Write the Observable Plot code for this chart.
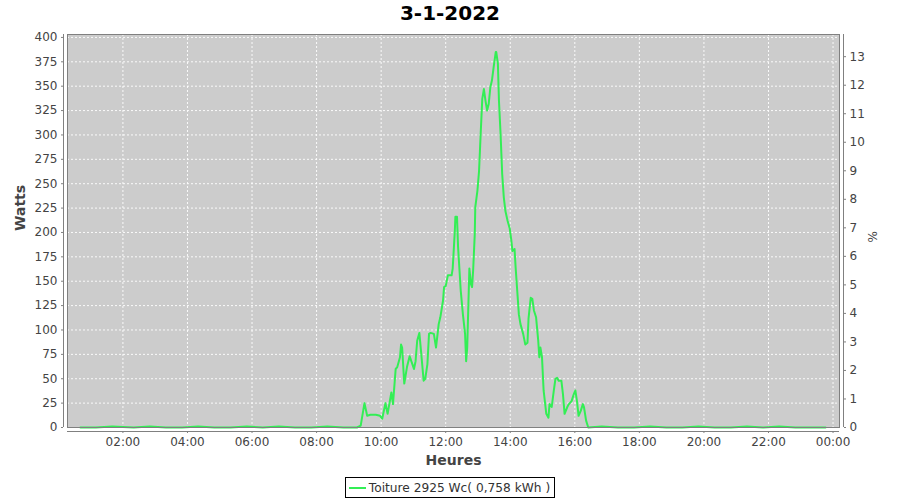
<!DOCTYPE html>
<html><head><meta charset="utf-8">
<script src="https://cdn.jsdelivr.net/npm/d3@7"></script>
<script src="https://cdn.jsdelivr.net/npm/@observablehq/plot@0.6"></script>
<style>
body{margin:0;background:#fff;font-family:"DejaVu Sans",sans-serif;width:900px;}
#title{height:26px;line-height:26px;text-align:center;font-weight:bold;font-size:20px;color:#000;}
#legend-wrap{height:29px;text-align:center;}
#legend{display:inline-flex;align-items:center;margin-top:6px;border:1px solid #000;height:19px;padding:0 4px 0 3px;font-size:12.2px;color:#333;}
#legend .sw{display:inline-block;width:17px;height:2px;background:#33ee55;margin-right:3px;}
</style></head><body>
<div id="title">3-1-2022</div>
<div id="chart"></div>
<div id="legend-wrap"><div id="legend"><span class="sw"></span><span>Toiture 2925 Wc( 0,758 kWh )</span></div></div>
<script>
// ---- data ----
const dateLabel = "3-1-2022";
const peakPower = 2925; // Wc
const times = ["00:41","01:10","01:40","02:20","02:50","03:20","03:50","04:20","04:50","05:20","05:50","06:20","06:50","07:20","07:50","08:20","08:50","09:15","09:22","09:29","09:34","09:40","09:50","09:58","10:02","10:08","10:12","10:19","10:22","10:27","10:30","10:35","10:37","10:39","10:43","10:48","10:53","10:58","11:01","11:04","11:07","11:11","11:14","11:19","11:22","11:26","11:29","11:32","11:38","11:42","11:47","11:50","11:55","11:57","12:00","12:04","12:11","12:13","12:17","12:18","12:21","12:23","12:28","12:32","12:36","12:38","12:40","12:42","12:44","12:47","12:49","12:51","12:54","12:55","12:59","13:02","13:05","13:08","13:11","13:14","13:17","13:20","13:23","13:26","13:29","13:33","13:34","13:37","13:39","13:42","13:45","13:48","13:51","13:55","13:59","14:02","14:04","14:08","14:10","14:13","14:16","14:19","14:24","14:28","14:32","14:34","14:38","14:41","14:44","14:48","14:52","14:54","14:56","14:59","15:02","15:07","15:11","15:13","15:17","15:21","15:24","15:27","15:30","15:35","15:38","15:41","15:46","15:49","15:54","15:58","16:01","16:04","16:07","16:11","16:15","16:17","16:21","16:25","16:50","17:20","17:50","18:20","18:50","19:20","19:50","20:20","20:50","21:20","21:50","22:20","22:50","23:20","23:46"];
const watts = [0,0,1,0,1,0,0,1,0,0,1,0,1,0,0,1,0,0,2,25,12,13,13,12,9,25,14,36,24,60,62,72,85,82,45,62,73,65,60,68,89,97,79,48,50,65,96,97,96,82,106,113,130,144,145,156,156,163,202,216,216,185,140,116,96,68,82,123,163,147,144,161,198,226,243,263,301,337,347,335,325,332,349,356,369,385,385,373,335,301,260,236,222,212,204,192,181,183,164,140,116,106,96,85,87,112,133,132,120,113,89,72,82,72,38,14,10,24,21,38,50,51,48,48,34,14,21,24,27,34,38,27,12,17,24,21,7,0,1,0,0,1,0,0,1,0,0,1,0,1,0,0,0];
const wattTicks = [0,25,50,75,100,125,150,175,200,225,250,275,300,325,350,375,400];
const pctTicks = [0,1,2,3,4,5,6,7,8,9,10,11,12,13];
const hourTicks = [2,4,6,8,10,12,14,16,18,20,22,24];
const seriesName = "Toiture 2925 Wc( 0,758 kWh )";

// ---- build ----
const toDate = (hm) => { const [h,m] = hm.split(":").map(Number); return new Date(Date.UTC(2022,0,3,h,m)); };
const data = times.map((t,i) => ({t: toDate(t), w: watts[i]}));
const xTicks = hourTicks.map(h => new Date(Date.UTC(2022,0,3,h,0)));
const xDomain = [new Date(Date.UTC(2022,0,3,0,17)), new Date(Date.UTC(2022,0,4,0,12))];
const green = "#33ee55";

const chart = Plot.plot({
  width: 900, height: 445,
  marginLeft: 67, marginRight: 61, marginTop: 8, marginBottom: 44,
  style: {fontFamily: "DejaVu Sans, sans-serif", fontSize: "12px", background: "transparent", color: "#444"},
  x: {type: "utc", domain: xDomain},
  y: {domain: [0, 403]},
  marks: [
    Plot.frame({fill: "#cccccc"}),
    Plot.ruleY(wattTicks.filter(v => v > 0), {stroke: "#ffffff", strokeDasharray: "2,2", strokeOpacity: 0.9}),
    Plot.ruleX(xTicks, {stroke: "#ffffff", strokeDasharray: "2,2", strokeOpacity: 0.9}),
    Plot.line(data, {x: "t", y: "w", stroke: green, strokeWidth: 2}),
    Plot.frame({stroke: "#808080"}),
    Plot.ruleX([xDomain[0]], {dx: -4, stroke: "#808080"}),
    Plot.ruleX([xDomain[1]], {dx: 4, stroke: "#808080"}),
    Plot.ruleY([0], {dy: 4, stroke: "#808080"}),
    Plot.axisY(wattTicks, {anchor: "left", tickSize: 2, dx: -4, tickPadding: 4, label: null, stroke: "#808080", fill: "#444"}),
    Plot.axisY(pctTicks.map(p => p * peakPower / 100), {anchor: "right", tickSize: 2, dx: 4, tickPadding: 4, label: null, stroke: "#808080", fill: "#444", tickFormat: v => String(Math.round(v * 100 / peakPower))}),
    Plot.axisX(xTicks, {anchor: "bottom", tickSize: 2, dy: 4, tickPadding: 4, label: null, stroke: "#808080", fill: "#444", tickFormat: d3.utcFormat("%H:%M")}),
    Plot.text(["Heures"], {frameAnchor: "bottom", dy: 37, fontWeight: "bold", fontSize: 14, fill: "#444"}),
    Plot.text(["Watts"], {frameAnchor: "left", dx: -47, rotate: -90, fontWeight: "bold", fontSize: 14, fill: "#444"}),
    Plot.text(["%"], {frameAnchor: "right", dx: 34, rotate: -90, fontSize: 12, fill: "#444"})
  ]
});
document.getElementById("chart").appendChild(chart);
document.getElementById("title").textContent = dateLabel;
document.querySelector("#legend span:last-child").textContent = seriesName;
</script>
</body></html>
